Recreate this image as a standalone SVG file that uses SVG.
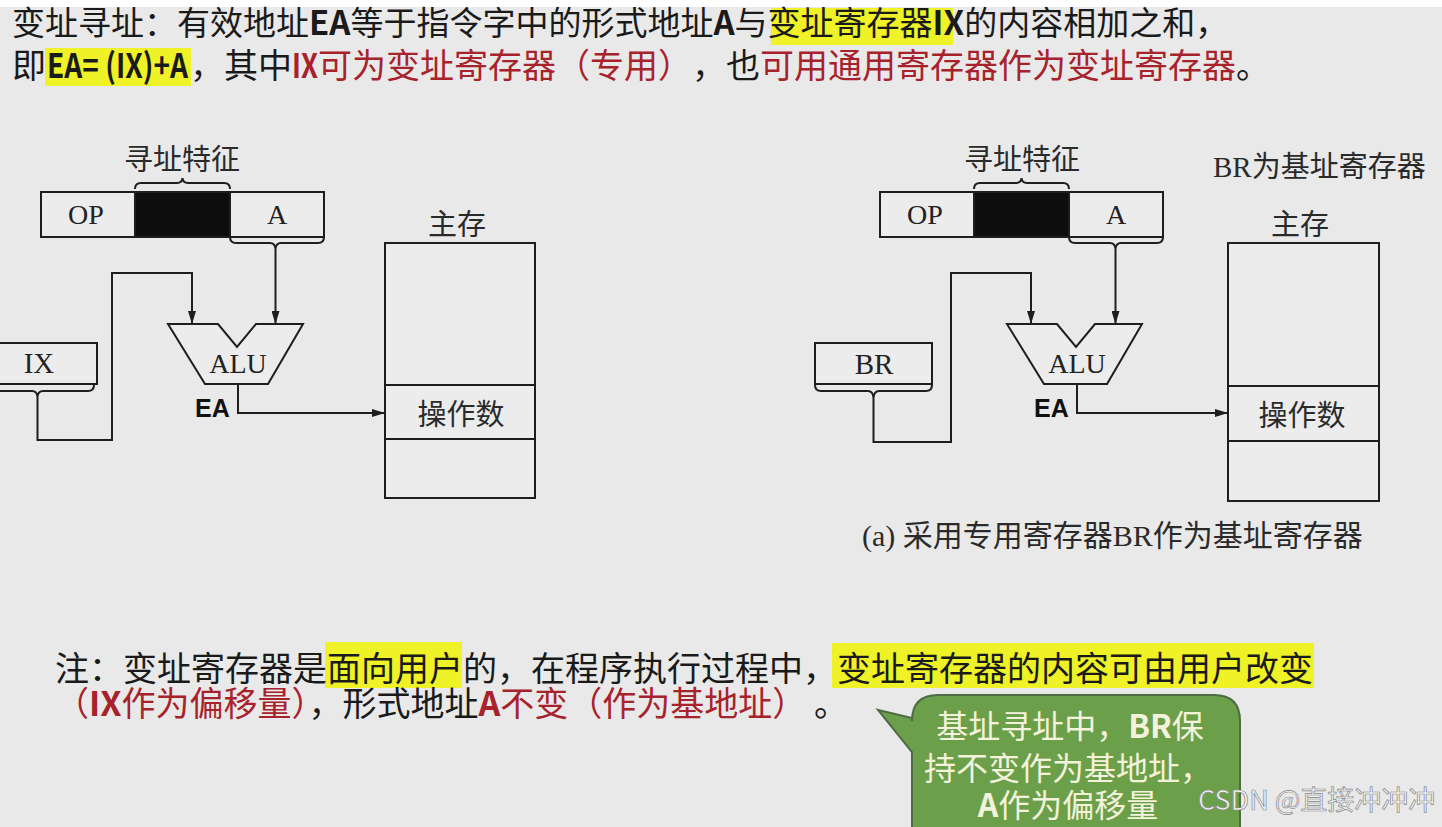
<svg xmlns="http://www.w3.org/2000/svg" width="1442" height="827" viewBox="0 0 1442 827">
<style>
.ln{fill:none;stroke:#1e1e1e;stroke-width:2}
.box{fill:#ececec;stroke:#1e1e1e;stroke-width:2}
.blk{fill:#0d0d0d;stroke:#1e1e1e;stroke-width:2}
.serif{font-family:"Liberation Serif","Noto Sans CJK SC",serif;fill:#222}
.cjk{font-family:"Noto Sans CJK SC",sans-serif}
.lab{font-family:"Noto Sans CJK SC",sans-serif;fill:#2a2a2a;font-size:29px}
.big{font-family:"Noto Sans CJK SC",sans-serif;fill:#1a1a1a;font-size:33px}
.l2{font-family:"Noto Sans CJK SC",sans-serif;fill:#1a1a1a;font-size:34px}
.b{font-weight:700}
.red{fill:#a8222c}
.hl{fill:#eef226}
.ea{font-family:"Liberation Sans",sans-serif;font-weight:700;font-size:25px;fill:#111}
</style>
<defs>
<marker id="arr" markerUnits="userSpaceOnUse" markerWidth="14" markerHeight="8" refX="13" refY="4" orient="auto">
<path d="M0,0 L13,4 L0,8 z" fill="#1e1e1e"/>
</marker>
</defs>
<rect x="0" y="0" width="1442" height="827" fill="#e9e9e9"/>
<rect x="0" y="0" width="1442" height="7" fill="#ffffff"/>

<g id="header">
<rect class="hl" x="771" y="8" width="182" height="37"/>
<rect class="hl" x="45" y="48" width="146" height="38"/>
<text class="big" x="12" y="35">变址寻址：有效地址<tspan class="b">EA</tspan>等于指令字中的形式地址<tspan class="b">A</tspan>与变址寄存器<tspan class="b">IX</tspan>的内容相加之和，</text>
<text class="l2" x="12" y="78">即</text>
<text class="l2 b" x="47" y="78" textLength="141" lengthAdjust="spacingAndGlyphs">EA= (IX)+A</text>
<text class="l2" x="190" y="78">，其中</text>
<text class="l2 red b" x="292" y="78" textLength="26" lengthAdjust="spacingAndGlyphs">IX</text>
<text class="l2 red" x="318" y="78">可为变址寄存器（专用）</text>
<text class="l2" x="692" y="78">，也</text>
<text class="l2 red" x="760" y="78">可用通用寄存器作为变址寄存器</text>
<text class="l2" x="1236" y="78"> 。</text>
</g>

<g id="connectors">
<path class="ln" d="M275.5,249 L275.5,324" marker-end="url(#arr)"/>
<path class="ln" d="M37.5,397 L37.5,440 L112,440 L112,273 L192,273 L192,324" marker-end="url(#arr)"/>
<path class="ln" d="M238,384 L238,413 L385,413" marker-end="url(#arr)"/>
<path class="ln" d="M1115.5,249 L1115.5,324" marker-end="url(#arr)"/>
<path class="ln" d="M873.5,398 L873.5,442 L951,442 L951,273 L1031,273 L1031,324" marker-end="url(#arr)"/>
<path class="ln" d="M1077,384 L1077,413 L1228,413" marker-end="url(#arr)"/>
</g>

<g id="instr-left">
<rect class="box" x="41" y="192" width="94" height="45"/>
<rect class="blk" x="135" y="192" width="95" height="45"/>
<rect class="box" x="230" y="192" width="94" height="45"/>
<text class="serif" x="86" y="224" font-size="28" text-anchor="middle">OP</text>
<text class="serif" x="277" y="224" font-size="28" text-anchor="middle">A</text>
<path class="ln" d="M135,189 Q135,183 141,183 L177,183 Q182,183 182.5,178 Q183,183 188,183 L224,183 Q230,183 230,189"/>
<path class="ln" d="M230,237 Q230,243 236,243 L270,243 Q275,243 275.5,249 Q276,243 281,243 L318,243 Q324,243 324,237"/>
<text class="lab" x="182" y="170" text-anchor="middle">寻址特征</text>
</g>

<g id="ix">
<rect class="box" x="-20" y="343" width="117" height="41"/>
<text class="serif" x="39" y="373" font-size="29" text-anchor="middle">IX</text>
<path class="ln" d="M-20,385 Q-20,391 -14,391 L32,391 Q37,391 37.5,397 Q38,391 43,391 L88,391 Q94,391 94,385"/>
</g>

<g id="alu-left">
<polygon class="box" points="168,324 218,324 237,347 256,324 303,324 268,384 205,384"/>
<text class="serif" x="238" y="373" font-size="28" text-anchor="middle" fill="#3a3a3a">ALU</text>
<text class="ea" x="195" y="417">EA</text>
</g>

<g id="mem-left">
<text class="lab" x="457" y="235" text-anchor="middle">主存</text>
<rect class="box" x="385" y="243" width="150" height="255"/>
<path class="ln" d="M385,385 L535,385 M385,439 L535,439"/>
<text class="lab" x="461" y="425" text-anchor="middle">操作数</text>
</g>

<g id="instr-right">
<rect class="box" x="880" y="192" width="94" height="45"/>
<rect class="blk" x="974" y="192" width="95" height="45"/>
<rect class="box" x="1069" y="192" width="94" height="45"/>
<text class="serif" x="925" y="224" font-size="28" text-anchor="middle">OP</text>
<text class="serif" x="1116" y="224" font-size="28" text-anchor="middle">A</text>
<path class="ln" d="M974,189 Q974,183 980,183 L1016,183 Q1021,183 1021.5,178 Q1022,183 1027,183 L1063,183 Q1069,183 1069,189"/>
<path class="ln" d="M1069,237 Q1069,243 1075,243 L1110,243 Q1115,243 1115.5,249 Q1116,243 1121,243 L1157,243 Q1163,243 1163,237"/>
<text class="lab" x="1022" y="170" text-anchor="middle">寻址特征</text>
</g>

<g id="br">
<rect class="box" x="815" y="343" width="117" height="41"/>
<text class="serif" x="874" y="374" font-size="29" text-anchor="middle">BR</text>
<path class="ln" d="M815,385 Q815,391 821,391 L868,391 Q873,391 873.5,398 Q874,391 879,391 L926,391 Q932,391 932,385"/>
</g>

<g id="alu-right">
<polygon class="box" points="1007,324 1057,324 1076,347 1095,324 1142,324 1107,384 1044,384"/>
<text class="serif" x="1077" y="373" font-size="28" text-anchor="middle" fill="#3a3a3a">ALU</text>
<text class="ea" x="1034" y="417">EA</text>
</g>

<g id="mem-right">
<text class="lab" x="1300" y="235" text-anchor="middle">主存</text>
<rect class="box" x="1228" y="243" width="151" height="258"/>
<path class="ln" d="M1228,386 L1379,386 M1228,441 L1379,441"/>
<text class="lab" x="1302" y="426" text-anchor="middle">操作数</text>
</g>

<g id="labels-right">
<text class="lab" x="1213" y="177"><tspan font-family="Liberation Serif">BR</tspan>为基址寄存器</text>
<text class="lab" x="862" y="546" style="font-size:30px"><tspan font-family="Liberation Serif">(a) </tspan>采用专用寄存器<tspan font-family="Liberation Serif">BR</tspan>作为基址寄存器</text>
</g>

<g id="note">
<rect class="hl" x="325" y="642" width="137" height="46"/>
<rect class="hl" x="832" y="643" width="482" height="45"/>
<text class="l2" x="55" y="681">注：变址寄存器是面向用户的，在程序执行过程中，变址寄存器的内容可由用户改变</text>
<text class="l2" x="55" y="716"><tspan class="red">（<tspan class="b">IX</tspan>作为偏移量）</tspan>，形式地址<tspan class="red b">A</tspan><tspan class="red">不变（作为基地址）</tspan> 。</text>
</g>

<g id="callout">
<path d="M938,695 L1214,695 Q1240,695 1240,721 L1240,840 L912,840 L912,752 L878,710 L912,718 L912,721 Q912,695 938,695 Z" fill="#6c9f4a" stroke="#4f6b45" stroke-width="2"/>
<g class="cjk" font-size="32" fill="#f3f3dc" text-anchor="middle">
<text x="1070" y="738">基址寻址中，<tspan font-weight="700">BR</tspan>保</text>
<text x="1068" y="780">持不变作为基地址，</text>
<text x="1068" y="817"><tspan font-weight="700">A</tspan>作为偏移量</text>
</g>
</g>

<text class="cjk" x="1198" y="810" font-size="27" fill="#f2f2f2" stroke="#8a8a8a" stroke-width="0.7">CSDN @直接冲冲冲</text>
</svg>
